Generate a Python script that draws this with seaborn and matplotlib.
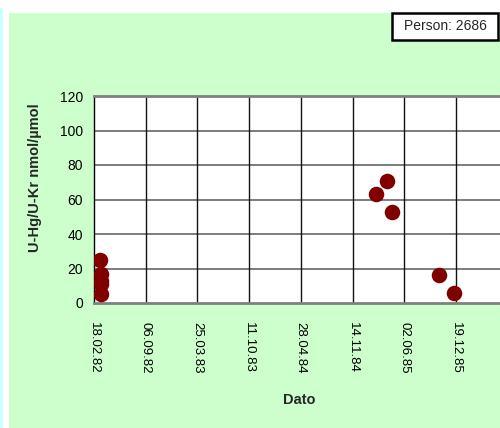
import matplotlib
matplotlib.use("Agg")
import matplotlib.pyplot as plt
import matplotlib.dates as mdates
from matplotlib.patches import Rectangle
import pandas as pd
import seaborn as sns

# ---- data ----
dates = ["15.03.82", "16.03.82", "17.03.82", "17.03.82", "16.03.82",
         "13.02.85", "29.03.85", "17.04.85", "16.10.85", "12.12.85"]
values = [25, 17, 13, 11, 5, 63, 71, 53, 16, 6]
tick_labels = ["18.02.82", "06.09.82", "25.03.83", "11.10.83",
               "28.04.84", "14.11.84", "02.06.85", "19.12.85"]
x_start = "18.02.82"
x_end = "07.07.86"
y_ticks = [0, 20, 40, 60, 80, 100, 120]
person_label = "Person: 2686"
x_label = "Dato"
y_label = "U-Hg/U-Kr nmol/µmol"

df = pd.DataFrame({"dato": pd.to_datetime(dates, format="%d.%m.%y"),
                   "verdi": values})
ticks = pd.to_datetime(tick_labels, format="%d.%m.%y")

sns.set_style("white")
plt.rcParams["font.family"] = ["Liberation Sans", "DejaVu Sans"]

W, H = 500, 428
fig = plt.figure(figsize=(W / 100, H / 100), dpi=100)
fig.patch.set_facecolor("white")

# background panels
fig.add_artist(Rectangle((0 / W, 0), 2.5 / W, (H - 8) / H, transform=fig.transFigure,
                         facecolor="#ccffff", edgecolor="none", zorder=0))
fig.add_artist(Rectangle((9 / W, 0), (W - 9) / W, (H - 13) / H, transform=fig.transFigure,
                         facecolor="#ccffcc", edgecolor="none", zorder=0))

left, right, bottom, top = 94, 507.6, 303, 96
ax = fig.add_axes([left / W, (H - bottom) / H, (right - left) / W, (bottom - top) / H])
ax.set_facecolor("white")

sns.scatterplot(data=df, x="dato", y="verdi", ax=ax, color="#800000",
                s=125, edgecolor="#800000", linewidth=0, zorder=5, legend=False)

ax.set_xlim(pd.to_datetime(x_start, format="%d.%m.%y"), pd.to_datetime(x_end, format="%d.%m.%y"))
ax.set_ylim(0, 120)
ax.set_yticks(y_ticks)
ax.set_xticks(ticks)
ax.xaxis.set_major_formatter(mdates.DateFormatter("%d.%m.%y"))

for y in y_ticks[1:-1]:
    ax.axhline(y, color="#666666", lw=1.2, zorder=1)
for t in ticks[1:]:
    ax.axvline(t, color="#111111", lw=1.0, zorder=1)

for s in ["top", "bottom"]:
    ax.spines[s].set_color("#808080")
    ax.spines[s].set_linewidth(2)
ax.spines["right"].set_visible(False)
ax.spines["left"].set_color("black")
ax.spines["left"].set_linewidth(1)

ax.tick_params(axis="both", direction="out", length=4, width=1, color="black",
               labelcolor="black")
ax.tick_params(axis="y", labelsize=10, pad=4)
ax.tick_params(axis="x", labelsize=9.5, pad=10, labelrotation=-90)
for lab in ax.get_xticklabels():
    lab.set_verticalalignment("top")

ax.set_xlabel(x_label, fontsize=10.5, fontweight="bold", labelpad=10)
ax.set_ylabel(y_label, fontsize=10.5, fontweight="bold", labelpad=4)
ax.xaxis.set_label_coords((299 - left) / (right - left), -(393 - bottom) / (bottom - top))
ax.yaxis.set_label_coords(-(left - 42) / (right - left), (bottom - 178) / (bottom - top))

# "Person" box
bx0, by0, bx1, by1 = 392, 13, 498, 40
fig.add_artist(Rectangle((bx0 / W, 1 - by1 / H), (bx1 - bx0) / W, (by1 - by0) / H,
                         transform=fig.transFigure, facecolor="white",
                         edgecolor="black", lw=1.8, zorder=3))
fig.text((bx0 + bx1) / 2 / W, 1 - (by0 + by1) / 2 / H, person_label,
         ha="center", va="center", fontsize=10, zorder=4)

fig.savefig("out.png", dpi=100)
